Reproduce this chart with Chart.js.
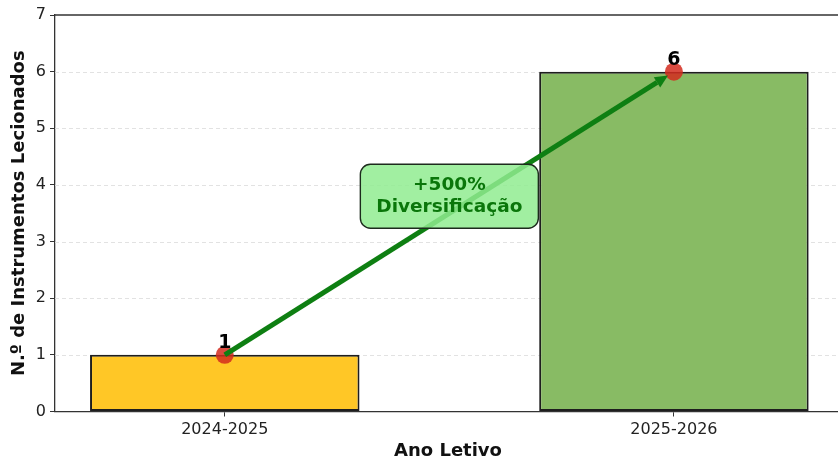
<!DOCTYPE html>
<html>
<head>
<meta charset="utf-8">
<script src="https://cdn.jsdelivr.net/npm/chart.js@4.4.0/dist/chart.umd.min.js"></script>
<style>
  html, body { margin: 0; padding: 0; background: #fff; }
  #wrap { width: 838px; height: 462px; overflow: hidden; }
</style>
</head>
<body>
<div id="wrap"><canvas id="chart" width="850" height="462"></canvas></div>
<script>
// chart data
const anos = ['2024-2025', '2025-2026'];
const instrumentos = [1, 6];
const barColors = ['#FFC726', '#88BB64'];
const yTicks = [0, 1, 2, 3, 4, 5, 6, 7];
const gridValues = [1, 2, 3, 4, 5, 6];
const annotationLines = ['+500%', 'Diversificação'];
const annotationAt = { x: 0.5, y: 3.8 };

const FONT = "'DejaVu Sans', sans-serif";
const AXIS = '#333333';

const barData = anos.map((_, i) => ({ x: i, y: instrumentos[i] }));

// dashed grid, top spine, arrow, annotation box and value labels
const extrasPlugin = {
    id: 'extras',
    beforeDatasetsDraw(chart) {
        const { ctx, chartArea, scales } = chart;
        ctx.save();
        ctx.strokeStyle = '#e2e2e2';
        ctx.lineWidth = 1;
        ctx.setLineDash([4, 3]);
        gridValues.forEach(v => {
            const y = Math.round(scales.y.getPixelForValue(v)) + 0.5;
            ctx.beginPath();
            ctx.moveTo(chartArea.left, y);
            ctx.lineTo(chartArea.right, y);
            ctx.stroke();
        });
        ctx.restore();
    },
    afterDatasetsDraw(chart) {
        const { ctx, chartArea, scales } = chart;
        const x = scales.x, y = scales.y;

        // top spine
        ctx.save();
        ctx.strokeStyle = AXIS;
        ctx.lineWidth = 1.3;
        ctx.beginPath();
        ctx.moveTo(chartArea.left, chartArea.top);
        ctx.lineTo(chartArea.right, chartArea.top);
        ctx.stroke();
        ctx.restore();

        // arrow from first bar top to second bar top
        const x0 = x.getPixelForValue(0), y0 = y.getPixelForValue(instrumentos[0]);
        const x1 = x.getPixelForValue(1), y1 = y.getPixelForValue(instrumentos[1]);
        const ang = Math.atan2(y1 - y0, x1 - x0);
        const shrink = 7, head = 13, half = 6;
        const tx = x1 - Math.cos(ang) * shrink, ty = y1 - Math.sin(ang) * shrink;
        const bx = tx - Math.cos(ang) * head, by = ty - Math.sin(ang) * head;
        ctx.save();
        ctx.strokeStyle = '#0E7F12';
        ctx.fillStyle = '#0E7F12';
        ctx.lineWidth = 5;
        ctx.lineCap = 'butt';
        ctx.beginPath();
        ctx.moveTo(x0, y0);
        ctx.lineTo(bx, by);
        ctx.stroke();
        ctx.beginPath();
        ctx.moveTo(tx, ty);
        ctx.lineTo(bx + Math.sin(ang) * half, by - Math.cos(ang) * half);
        ctx.lineTo(bx - Math.sin(ang) * half, by + Math.cos(ang) * half);
        ctx.closePath();
        ctx.fill();
        ctx.restore();

        // annotation box
        const cx = x.getPixelForValue(annotationAt.x), cy = y.getPixelForValue(annotationAt.y);
        const w = 178, h = 64;
        ctx.save();
        ctx.beginPath();
        ctx.roundRect(cx - w / 2, cy - h / 2, w, h, 10);
        ctx.fillStyle = 'rgba(144, 236, 144, 0.85)';
        ctx.fill();
        ctx.strokeStyle = '#1d2b1d';
        ctx.lineWidth = 1.4;
        ctx.stroke();
        ctx.fillStyle = '#0A760A';
        ctx.font = 'bold 18.5px ' + FONT;
        ctx.textAlign = 'center';
        ctx.textBaseline = 'middle';
        ctx.fillText(annotationLines[0], cx, cy - 11);
        ctx.fillText(annotationLines[1], cx, cy + 11);
        ctx.restore();

        // value labels
        ctx.save();
        ctx.fillStyle = '#000';
        ctx.font = 'bold 19px ' + FONT;
        ctx.textAlign = 'center';
        ctx.textBaseline = 'middle';
        instrumentos.forEach((v, i) => {
            ctx.fillText(String(v), x.getPixelForValue(i), y.getPixelForValue(v) - 12);
        });
        ctx.restore();
    }
};

new Chart(document.getElementById('chart'), {
    type: 'bar',
    data: {
        datasets: [{
            type: 'line',
            data: barData,
            showLine: false,
            pointRadius: 9,
            pointBackgroundColor: 'rgba(212, 44, 30, 0.85)',
            pointBorderWidth: 0,
            order: 0
        }, {
            data: barData,
            backgroundColor: barColors,
            borderColor: '#1e1e1e',
            borderWidth: 2,
            borderSkipped: false,
            categoryPercentage: 1,
            barPercentage: 0.6,
            order: 1
        }]
    },
    options: {
        responsive: false,
        animation: false,
        events: [],
        layout: {
            padding: { left: 0, top: 15, right: 5, bottom: 0 }
        },
        plugins: {
            legend: { display: false },
            tooltip: { enabled: false }
        },
        scales: {
            x: {
                type: 'linear',
                offset: false,
                min: -0.378,
                max: 1.372,
                afterBuildTicks(scale) {
                    scale.ticks = anos.map((_, i) => ({ value: i }));
                },
                afterFit(scale) { scale.height = 50.5; },
                grid: {
                    offset: false,
                    drawOnChartArea: false,
                    drawTicks: true,
                    tickLength: 5,
                    color: AXIS
                },
                border: { display: true, color: AXIS, width: 1.3 },
                ticks: {
                    color: '#222',
                    padding: 4,
                    maxRotation: 0,
                    font: { family: FONT, size: 16 },
                    callback: v => anos[v]
                },
                title: {
                    display: true,
                    text: 'Ano Letivo',
                    color: '#111',
                    padding: { top: 0, bottom: 0 },
                    font: { family: FONT, size: 18, weight: 'bold' }
                }
            },
            y: {
                min: 0,
                max: 7,
                afterBuildTicks(scale) {
                    scale.ticks = yTicks.map(v => ({ value: v }));
                },
                afterFit(scale) { scale.width = 55; },
                grid: {
                    drawOnChartArea: false,
                    drawTicks: true,
                    tickLength: 5,
                    color: AXIS
                },
                border: { display: true, color: AXIS, width: 1.3 },
                ticks: {
                    color: '#222',
                    padding: 4,
                    font: { family: FONT, size: 16 }
                },
                title: {
                    display: true,
                    text: 'N.º de Instrumentos Lecionados',
                    color: '#111',
                    padding: { top: 9, bottom: 0 },
                    font: { family: FONT, size: 18, weight: 'bold' }
                }
            }
        }
    },
    plugins: [extrasPlugin]
});
</script>
</body>
</html>
